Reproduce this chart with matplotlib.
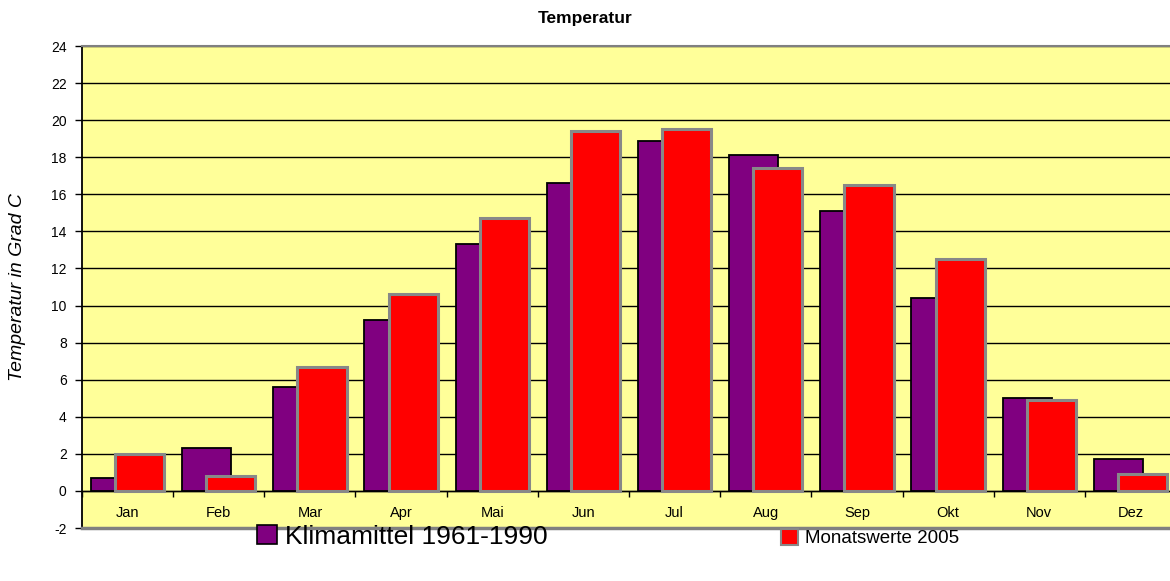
import matplotlib.pyplot as plt
import numpy as np
from matplotlib.patches import Patch

plt.rcParams['font.family'] = ['Liberation Sans', 'DejaVu Sans']
plt.rcParams['axes.unicode_minus'] = False

months = ['Jan', 'Feb', 'Mar', 'Apr', 'Mai', 'Jun', 'Jul', 'Aug', 'Sep', 'Okt', 'Nov', 'Dez']
klimamittel = [0.7, 2.3, 5.6, 9.2, 13.3, 16.6, 18.9, 18.1, 15.1, 10.4, 5.0, 1.7]
werte_2005 = [2.0, 0.8, 6.7, 10.6, 14.7, 19.4, 19.5, 17.4, 16.5, 12.5, 4.9, 0.9]
y_ticks = list(range(-2, 25, 2))

purple = '#800080'
red = '#FF0000'

fig = plt.figure(figsize=(11.7, 5.81), dpi=100)
ax = fig.add_axes([82/1170, 1-528/581, 1094/1170, 482/581])
ax.set_facecolor('#FFFF99')

x = np.arange(len(months))
w = 0.54
ax.bar(x - 0.132, klimamittel, width=w, color=purple, edgecolor='black', linewidth=1.3, zorder=3)
ax.bar(x + 0.132, werte_2005, width=w, color=red, edgecolor='#888888', linewidth=2.2, zorder=4)

ax.set_xlim(-0.5, len(months) - 0.5)
ax.set_ylim(-2, 24)
ax.set_yticks(y_ticks)
ax.tick_params(axis='y', direction='out', length=5, labelsize=10, width=1, pad=6)

# category boundary ticks on the zero line, labels in the middle
ax.spines['bottom'].set_position(('data', 0))
ax.spines['bottom'].set_linewidth(1)
ax.set_xticks(np.arange(len(months) + 1) - 0.5)
ax.set_xticklabels([])
ax.set_xticks(x, minor=True)
ax.set_xticklabels(months, minor=True, fontsize=10.5)
ax.tick_params(axis='x', which='major', direction='out', length=4, width=1)
ax.tick_params(axis='x', which='minor', length=0, pad=11)

ax.set_axisbelow(True)
ax.yaxis.grid(True, color='black', linewidth=1)
ax.spines['right'].set_visible(False)
ax.spines['top'].set_color('#808080')
ax.spines['top'].set_linewidth(1.5)
ax.spines['left'].set_linewidth(1.3)
ax.axhline(-2, color='#808080', linewidth=2.5, clip_on=False, zorder=5)

ax.set_ylabel('Temperatur in Grad C', fontsize=14, style='italic', labelpad=18)
fig.text(0.5, 1-18/581, 'Temperatur', ha='center', va='center', fontsize=12.5, fontweight='bold')

fig.legend(handles=[Patch(facecolor=purple, edgecolor='black', linewidth=1.2)],
           labels=['Klimamittel 1961-1990'], loc='center left',
           bbox_to_anchor=(257/1170, 1-537/581), frameon=False, fontsize=19,
           handlelength=0.75, handleheight=0.75, handletextpad=0.3, borderpad=0, borderaxespad=0)
fig.legend(handles=[Patch(facecolor=red, edgecolor='#888888', linewidth=1.5)],
           labels=['Monatswerte 2005'], loc='center left',
           bbox_to_anchor=(781/1170, 1-538/581), frameon=False, fontsize=13.5,
           handlelength=0.9, handleheight=1.0, handletextpad=0.4, borderpad=0, borderaxespad=0)

fig.savefig('out.png', dpi=100)
